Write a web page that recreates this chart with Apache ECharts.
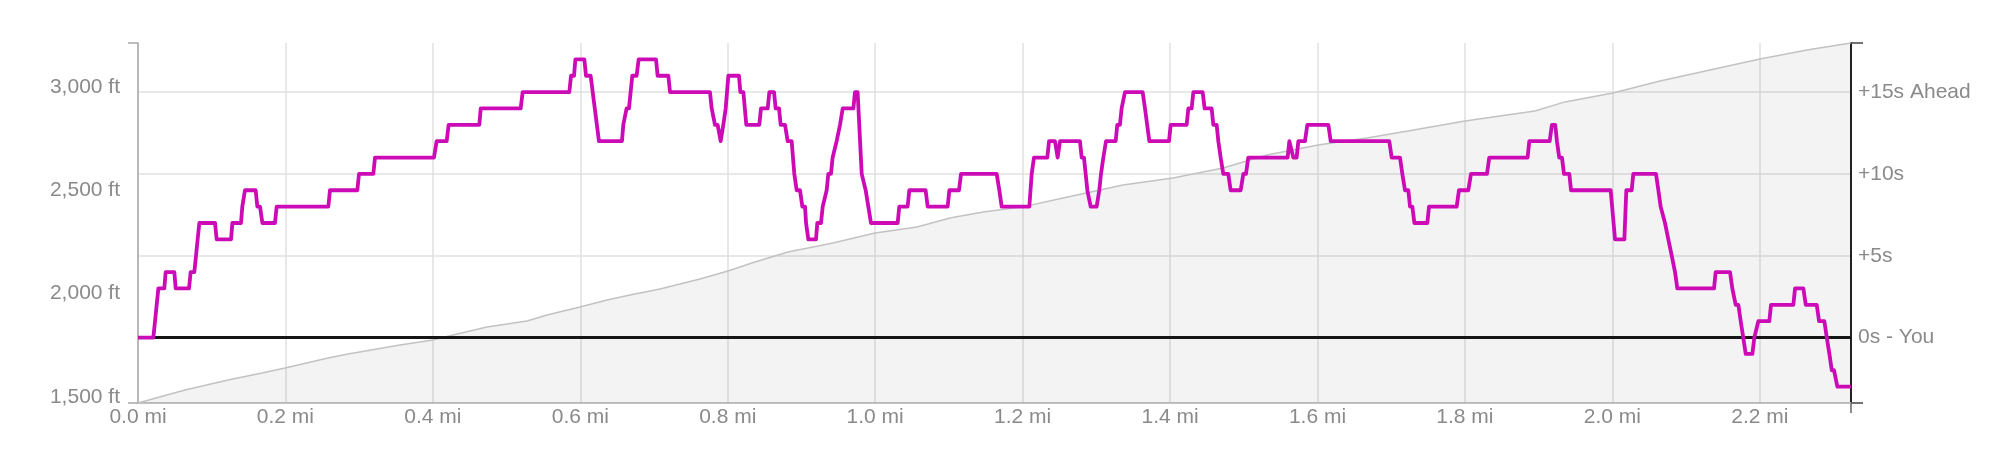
<!DOCTYPE html>
<html>
<head>
<meta charset="utf-8">
<script src="https://cdn.jsdelivr.net/npm/echarts@6/dist/echarts.min.js"></script>
<style>
html,body{margin:0;padding:0;background:#fff;}
#chart{width:2000px;height:462px;}
</style>
</head>
<body>
<div id="chart"></div>
<script>
// ---- data ----
const DIST_MAX = 2.3237;                 // miles, end of the route
const DIST_TICKS = [0, 0.2, 0.4, 0.6, 0.8, 1.0, 1.2, 1.4, 1.6, 1.8, 2.0, 2.2];

const ELEV_MIN = 1471;                   // ft
const ELEV_MAX = 3213;                   // ft
const ELEV_TICKS = [1500, 2000, 2500, 3000];

const GAP_MIN = -4;                      // seconds
const GAP_MAX = 18;
const GAP_TICKS = [0, 5, 10, 15];
const GAP_TICK_LABELS = ['0s - You', '+5s', '+10s', '+15s Ahead'];

// elevation profile (distance in mi, elevation in ft)
const elevDist = [0, 0.0638, 0.1221, 0.1682, 0.1994, 0.2577, 0.2849, 0.3554, 0.4002, 0.4273,
  0.4734, 0.5277, 0.5548, 0.5996, 0.6362, 0.6674, 0.7081, 0.7623, 0.8003, 0.8369,
  0.8817, 0.9428, 0.9997, 1.0567, 1.1015, 1.1462, 1.2005, 1.2548, 1.3049, 1.3361,
  1.4040, 1.4718, 1.5315, 1.6007, 1.6671, 1.7227, 1.8000, 1.8950, 1.9357, 2.0008,
  2.0646, 2.1324, 2.2003, 2.2640, 2.3237];
const elevFt = [1471, 1534, 1582, 1616, 1640, 1689, 1708, 1752, 1776, 1800,
  1839, 1868, 1897, 1936, 1969, 1994, 2023, 2071, 2110, 2153,
  2202, 2245, 2294, 2323, 2366, 2395, 2420, 2463, 2502, 2526,
  2560, 2608, 2671, 2719, 2753, 2787, 2836, 2884, 2928, 2971,
  3029, 3082, 3136, 3179, 3213];

// time gap vs. you (distance in mi, seconds ahead)
const gapDist = [0,0.0208,0.0231,0.0276,0.0357,0.0375,0.0493,0.0511,0.0692,0.0714,0.0764,0.0787,0.0809,0.0832,0.1045,0.1067,0.1262,0.1280,0.1397,0.1415,0.1451,0.1596,0.1619,0.1655,0.1687,0.1858,0.1881,0.2582,0.2604,0.2975,0.2998,0.3192,0.3215,0.4015,0.4051,0.4187,0.4214,0.4630,0.4649,0.5191,0.5218,0.5851,0.5874,0.5915,0.5933,0.6055,0.6077,0.6140,0.6253,0.6565,0.6583,0.6606,0.6628,0.6660,0.6705,0.6764,0.6791,0.7027,0.7049,0.7194,0.7217,0.7759,0.7782,0.7809,0.7827,0.7863,0.7904,0.7940,0.7972,0.8008,0.8152,0.8171,0.8212,0.8252,0.8428,0.8451,0.8542,0.8564,0.8628,0.8650,0.8696,0.8718,0.8777,0.8813,0.8867,0.8903,0.8935,0.8980,0.9012,0.9048,0.9062,0.9093,0.9197,0.9215,0.9265,0.9288,0.9342,0.9364,0.9400,0.9423,0.9477,0.9500,0.9523,0.9559,0.9704,0.9726,0.9762,0.9817,0.9871,0.9907,0.9943,1.0305,1.0327,1.0440,1.0463,1.0684,1.0712,1.0983,1.1006,1.1137,1.1164,1.1648,1.1684,1.1716,1.2091,1.2123,1.2154,1.2335,1.2358,1.2439,1.2475,1.2507,1.2778,1.2801,1.2832,1.2878,1.2923,1.3004,1.3040,1.3063,1.3095,1.3117,1.3131,1.3262,1.3284,1.3320,1.3343,1.3388,1.3628,1.3660,1.3682,1.3719,1.3986,1.4008,1.4225,1.4248,1.4293,1.4316,1.4442,1.4469,1.4564,1.4587,1.4632,1.4655,1.4686,1.4722,1.4790,1.4822,1.4958,1.4994,1.5030,1.5061,1.5595,1.5618,1.5640,1.5672,1.5717,1.5740,1.5830,1.5862,1.6147,1.6179,1.6974,1.7006,1.7119,1.7151,1.7187,1.7232,1.7255,1.7287,1.7314,1.7490,1.7513,1.7888,1.7919,1.8046,1.8082,1.8299,1.8330,1.8850,1.8873,1.9149,1.9180,1.9225,1.9248,1.9279,1.9316,1.9344,1.9416,1.9439,1.9977,2.0036,2.0163,2.0189,2.0262,2.0284,2.0592,2.0624,2.0655,2.0669,2.0714,2.0737,2.0759,2.0782,2.0805,2.0827,2.0850,2.0881,2.1379,2.1401,2.1596,2.1627,2.1641,2.1673,2.1709,2.1741,2.1763,2.1809,2.1899,2.1926,2.1980,2.2129,2.2152,2.2455,2.2478,2.2591,2.2623,2.2772,2.2804,2.2876,2.2908,2.2944,2.2976,2.3007,2.3052,2.3237];
const gapSec = [0,0,1,3,3,4,4,3,3,4,4,5,6,7,7,6,6,7,7,8,9,9,8,8,7,7,8,8,9,9,10,10,11,11,12,12,13,13,14,14,15,15,16,16,17,17,16,16,12,12,13,13,14,14,16,16,17,17,16,16,15,15,14,14,13,13,12,13,14,16,16,15,15,13,13,14,14,15,15,14,14,13,13,12,12,10,9,9,8,8,7,6,6,7,7,8,9,10,10,11,12,12,13,14,14,15,15,10,9,8,7,7,8,8,9,9,8,8,9,9,10,10,9,8,8,10,11,11,12,12,11,12,12,11,11,9,8,8,9,10,11,11,12,12,13,13,14,15,15,14,14,12,12,13,13,14,14,15,15,14,14,13,13,12,11,10,10,9,9,10,10,11,11,12,12,11,11,12,12,13,13,12,12,11,11,10,9,9,8,8,7,7,8,8,9,9,10,10,11,11,12,12,13,13,12,11,11,10,10,9,9,6,6,9,9,10,10,9,8,8,7,7,6,6,5,5,4,3,3,4,4,3,3,2,2,1,1,-1,-1,0,1,1,2,2,3,3,2,2,1,1,0,-1,-2,-2,-3,-3];

// ---- build ----
const zip = (a, b) => a.map((v, i) => [v, b[i]]);
const FONT = 'Liberation Sans';
const LABEL_COLOR = '#8a8a8a';
const GRID_COLOR = '#e0e0e0';

const chart = echarts.init(document.getElementById('chart'), null, {renderer: 'canvas'});
chart.setOption({
  animation: false,
  backgroundColor: '#ffffff',
  grid: {left: 138, right: 149, top: 43, bottom: 59, containLabel: false},
  xAxis: [{
    type: 'value', min: 0, max: DIST_MAX, interval: 0.2,
    axisLine: {show: true, onZero: false, lineStyle: {color: '#c2c2c2', width: 2}},
    axisTick: {show: false},
    splitLine: {show: true, lineStyle: {color: GRID_COLOR, width: 1.5}},
    axisLabel: {
      customValues: DIST_TICKS,
      formatter: v => v.toFixed(1) + ' mi',
      color: LABEL_COLOR, fontSize: 21, fontFamily: FONT, margin: 4
    }
  }, {
    type: 'value', min: 0, max: DIST_MAX, position: 'bottom',
    axisLine: {show: false, onZero: false}, axisLabel: {show: false}, splitLine: {show: false},
    axisTick: {show: true, customValues: [DIST_MAX], length: 10, lineStyle: {color: '#666', width: 1.5}}
  }],
  yAxis: [{
    type: 'value', position: 'left', min: ELEV_MIN, max: ELEV_MAX,
    axisLine: {show: true, onZero: false, lineStyle: {color: '#a8a8a8', width: 1.5}},
    axisTick: {show: true, customValues: [ELEV_MIN, ELEV_MAX], length: 10, lineStyle: {color: '#a8a8a8', width: 1.5}},
    splitLine: {show: false},
    axisLabel: {
      customValues: ELEV_TICKS,
      formatter: v => v.toLocaleString('en-US') + ' ft',
      color: LABEL_COLOR, fontSize: 21, fontFamily: FONT, margin: 18
    }
  }, {
    type: 'value', position: 'right', min: GAP_MIN, max: GAP_MAX,
    axisLine: {show: true, onZero: false, lineStyle: {color: '#222', width: 2}},
    axisTick: {show: false, customValues: GAP_TICKS},
    splitLine: {show: true, lineStyle: {color: GRID_COLOR, width: 1.5}},
    axisLabel: {
      customValues: GAP_TICKS,
      formatter: v => GAP_TICK_LABELS[GAP_TICKS.indexOf(v)],
      color: LABEL_COLOR, fontSize: 21, fontFamily: FONT, margin: 7
    }
  }, {
    type: 'value', position: 'right', min: GAP_MIN, max: GAP_MAX,
    axisLine: {show: false, onZero: false}, axisLabel: {show: false}, splitLine: {show: false},
    axisTick: {show: true, customValues: [GAP_MIN, GAP_MAX], length: 12, lineStyle: {color: '#444', width: 1.5}}
  }],
  series: [{
    name: 'Elevation', type: 'line', xAxisIndex: 0, yAxisIndex: 0,
    data: zip(elevDist, elevFt),
    showSymbol: false, silent: true, z: 2,
    lineStyle: {color: '#c2c2c2', width: 1.5},
    areaStyle: {color: 'rgba(0,0,0,0.065)', origin: 'start'}
  }, {
    name: 'You', type: 'line', xAxisIndex: 0, yAxisIndex: 1,
    data: [[0, 0], [DIST_MAX, 0]],
    showSymbol: false, silent: true, z: 3,
    lineStyle: {color: '#151515', width: 3}
  }, {
    name: 'Gap', type: 'line', xAxisIndex: 0, yAxisIndex: 1,
    data: zip(gapDist, gapSec),
    showSymbol: false, silent: true, z: 4,
    lineStyle: {color: '#cc0bb6', width: 3.8, join: 'round'}
  }]
});
</script>
</body>
</html>
